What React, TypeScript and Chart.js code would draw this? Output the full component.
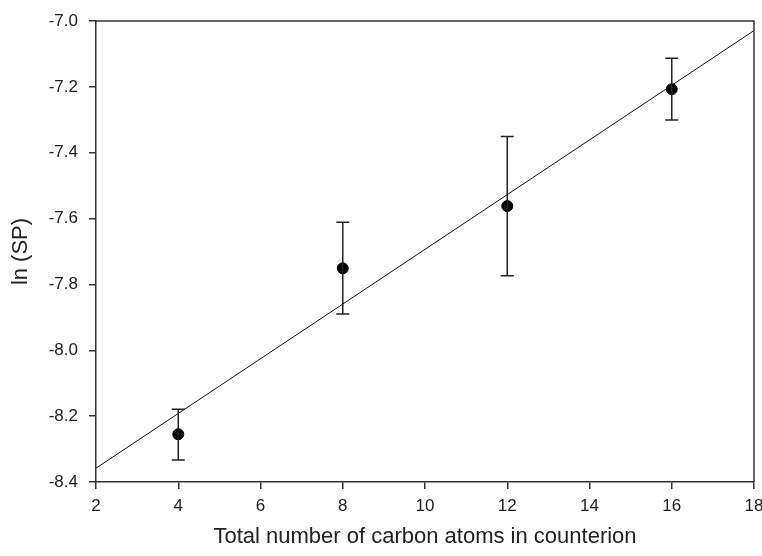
import { useEffect, useRef } from "react";
import { Chart, registerables } from "chart.js";

Chart.register(...registerables);

// Data
const carbonAtoms = [4, 8, 12, 16];
const lnSP = [-8.255, -7.751, -7.562, -7.207];
const errUpper = [-8.179, -7.611, -7.351, -7.113];
const errLower = [-8.333, -7.89, -7.774, -7.301];
const fitX = [2, 18];
const fitY = [-8.358, -7.029];
const xTicks = [2, 4, 6, 8, 10, 12, 14, 16, 18];
const yTicks = [-8.4, -8.2, -8.0, -7.8, -7.6, -7.4, -7.2, -7.0];

const AXIS_COLOR = "#333333";
const FONT = "'Liberation Sans', Arial, sans-serif";

const errorBarPlugin = {
  id: "errorBars",
  afterDatasetsDraw(chart: any) {
    const { ctx, scales } = chart;
    const xs = scales.x;
    const ys = scales.y;
    ctx.save();
    ctx.strokeStyle = "#222222";
    ctx.lineWidth = 1.5;
    const cap = 6.5;
    carbonAtoms.forEach((xv, i) => {
      const px = xs.getPixelForValue(xv);
      const pTop = ys.getPixelForValue(errUpper[i]);
      const pBot = ys.getPixelForValue(errLower[i]);
      ctx.beginPath();
      ctx.moveTo(px, pTop);
      ctx.lineTo(px, pBot);
      ctx.moveTo(px - cap, pTop);
      ctx.lineTo(px + cap, pTop);
      ctx.moveTo(px - cap, pBot);
      ctx.lineTo(px + cap, pBot);
      ctx.stroke();
    });
    ctx.restore();
  },
};

const framePlugin = {
  id: "frame",
  afterDraw(chart: any) {
    const { ctx, chartArea } = chart;
    ctx.save();
    ctx.strokeStyle = AXIS_COLOR;
    ctx.lineWidth = 1.5;
    ctx.beginPath();
    ctx.moveTo(chartArea.left, chartArea.top);
    ctx.lineTo(chartArea.right, chartArea.top);
    ctx.lineTo(chartArea.right, chartArea.bottom);
    ctx.stroke();
    ctx.restore();
  },
};

export default function App() {
  const canvasRef = useRef<HTMLCanvasElement | null>(null);

  useEffect(() => {
    document.body.style.margin = "0";
    const canvas = canvasRef.current;
    if (!canvas) return;
    const chart = new Chart(canvas, {
      type: "scatter",
      data: {
        datasets: [
          {
            type: "line",
            label: "fit",
            data: fitX.map((x, i) => ({ x, y: fitY[i] })),
            borderColor: "#111111",
            borderWidth: 1,
            pointRadius: 0,
            fill: false,
          },
          {
            type: "scatter",
            label: "ln (SP)",
            data: carbonAtoms.map((x, i) => ({ x, y: lnSP[i] })),
            backgroundColor: "#000000",
            borderColor: "#000000",
            pointRadius: 5.5,
            pointHoverRadius: 5.5,
          },
        ],
      },
      options: {
        responsive: false,
        animation: false,
        events: [],
        layout: { padding: { top: 21, right: 8, left: 0, bottom: 0 } },
        plugins: {
          legend: { display: false },
          tooltip: { enabled: false },
        },
        scales: {
          x: {
            type: "linear",
            min: 2,
            max: 18,
            afterBuildTicks: (s: any) => {
              s.ticks = xTicks.map((v) => ({ value: v }));
            },
            afterFit: (s: any) => {
              s.height = 74;
              s.paddingLeft = 0;
              s.paddingRight = 0;
            },
            grid: {
              drawOnChartArea: false,
              drawTicks: true,
              tickLength: 7,
              color: AXIS_COLOR,
              lineWidth: 1.5,
            },
            border: { display: true, color: AXIS_COLOR, width: 1.5 },
            ticks: {
              color: "#222222",
              font: { family: FONT, size: 17 },
              padding: 7,
              maxRotation: 0,
              autoSkip: false,
              callback: (v: any) => String(v),
            },
            title: {
              display: true,
              text: "Total number of carbon atoms in counterion",
              color: "#222222",
              font: { family: FONT, size: 22, lineHeight: 1.2 },
              padding: { top: 0, bottom: 6 },
            },
          },
          y: {
            type: "linear",
            min: -8.4,
            max: -7.0,
            afterBuildTicks: (s: any) => {
              s.ticks = yTicks.map((v) => ({ value: v }));
            },
            afterFit: (s: any) => {
              s.width = 96;
              s.paddingTop = 0;
              s.paddingBottom = 0;
            },
            grid: {
              drawOnChartArea: false,
              drawTicks: true,
              tickLength: 7,
              color: AXIS_COLOR,
              lineWidth: 1.5,
            },
            border: { display: true, color: AXIS_COLOR, width: 1.5 },
            ticks: {
              color: "#222222",
              font: { family: FONT, size: 17 },
              padding: 11,
              autoSkip: false,
              callback: (v: any) => Number(v).toFixed(1),
            },
            title: {
              display: true,
              text: "ln (SP)",
              color: "#222222",
              font: { family: FONT, size: 22, lineHeight: 1.2 },
              padding: { top: 8, bottom: 0 },
            },
          },
        },
      },
      plugins: [errorBarPlugin, framePlugin],
    });
    return () => chart.destroy();
  }, []);

  return (
    <div style={{ width: 762, height: 556, position: "relative", background: "#fff" }}>
      <canvas ref={canvasRef} width={762} height={556} />
    </div>
  );
}
